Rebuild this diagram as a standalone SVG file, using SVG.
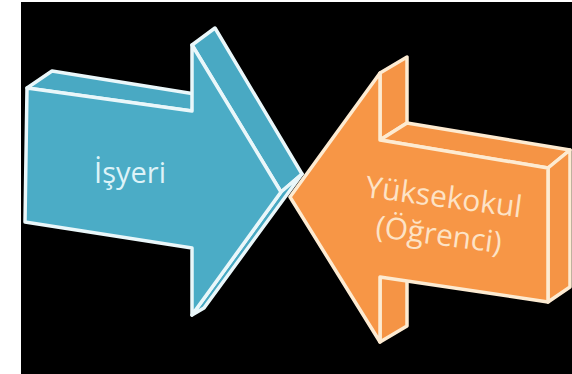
<svg xmlns="http://www.w3.org/2000/svg" width="572" height="374" viewBox="0 0 572 374">
<style>
.bl{fill:#4bacc6;stroke:#eaf7fa;stroke-width:3.5;stroke-linejoin:round}
.bs{fill:#49a9c3;stroke:#eaf7fa;stroke-width:3.5;stroke-linejoin:round}
.or{fill:#f79646;stroke:#fdebd2;stroke-width:3.5;stroke-linejoin:round}
.os{fill:#f59445;stroke:#fdebd2;stroke-width:3.5;stroke-linejoin:round}
.tb{font-family:"Open Sans","Liberation Sans",sans-serif;font-size:29px;fill:#def3f8;text-anchor:middle}
.to{font-family:"Open Sans","Liberation Sans",sans-serif;font-size:30px;fill:#fde3c6;text-anchor:middle}
</style>
<rect x="0" y="0" width="572" height="374" fill="#ffffff"/>
<rect x="21" y="2" width="551" height="372" fill="#000000"/>
<g id="node-yuksekokul">
<polygon class="os" points="380,73 407,57 407,123 380,140"/>
<polygon class="os" points="380,140 407,123 570,150 548,168"/>
<polygon class="os" points="548,168 570,150 570,287 548,302"/>
<polygon class="os" points="380,277 407,262 407,326 380,342"/>
<polygon class="or" points="380,73 380,140 548,168 548,302 380,277 380,342 290,197"/>
<text class="to" transform="rotate(7.5 440 226)"><tspan x="440" y="207">Yüksekokul</tspan><tspan x="440" y="245">(Öğrenci)</tspan></text>
</g>
<g id="node-isyeri">
<polygon class="bs" points="27,88 52,71 195,94 192,111"/>
<polygon class="bs" points="192,45 215,28 302,174 281,192"/>
<polygon class="bs" points="192,315 281,192 302,174 204,308"/>
<polygon class="bl" points="27,88 192,111 192,45 281,192 192,315 192,248 25,222"/>
<text class="tb" x="130" y="183">İşyeri</text>
</g>
<g id="connectors"></g>
</svg>
